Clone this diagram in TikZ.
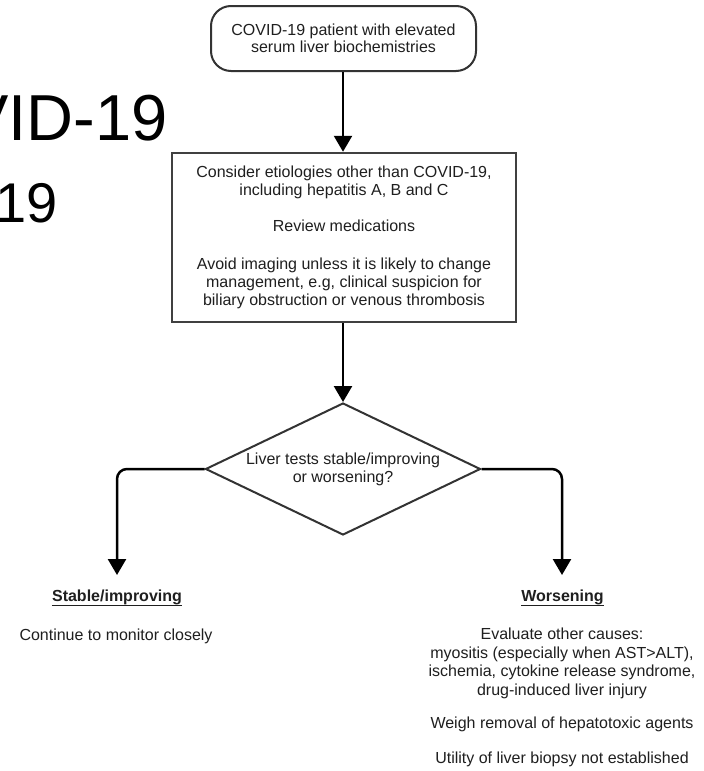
\documentclass[tikz,border=0pt]{standalone}
\usepackage{fontspec}
\setmainfont{Liberation Sans}
\usetikzlibrary{arrows.meta,shapes.geometric}
\begin{document}
\begin{tikzpicture}[x=1pt,y=-1pt,
  txt/.style={font=\fontsize{16}{18}\selectfont, text=black!88},
  startbox/.style={draw=black!80, line width=2pt, rounded corners=20pt,
    minimum width=265pt, minimum height=65pt, inner sep=0pt, align=center,
    font=\fontsize{16}{17}\selectfont, text=black!88},
  procbox/.style={draw=black!75, line width=2.5pt, minimum width=344pt,
    minimum height=169pt, inner sep=0pt, align=center, txt},
  decision/.style={diamond, draw=black!80, line width=2pt, aspect=2.08,
    minimum width=275pt, minimum height=132pt, inner sep=0pt, align=center, txt},
  arr/.style={draw=black, line width=2.5pt, -{Triangle[width=18pt,length=16pt]}},
  lbl/.style={inner sep=0pt, txt},
  ulline/.style={draw=black!88, line width=1.3pt},
  bigtxt/.style={inner sep=0pt, text=black}
]
\useasboundingbox (0,0) rectangle (704,771);
\clip (0,0) rectangle (704,771);
\fill[white] (0,0) rectangle (704,771);

% large partially visible title text
\node[bigtxt, anchor=base east, font=\fontsize{65}{65}\selectfont] (t1) at (168,140) {VID-19};
\node[bigtxt, anchor=base east, font=\fontsize{56}{56}\selectfont] (t2) at (57.5,222) {19};

% flowchart
\node[startbox] (s) at (343.5,38.5) {COVID-19 patient with elevated\\serum liver biochemistries};
\node[procbox] (b) at (344,237.5) {Consider etiologies other than COVID-19,\\including hepatitis A, B and C\\[18pt]Review medications\\[20pt]Avoid imaging unless it is likely to change\\management, e.g, clinical suspicion for\\biliary obstruction or venous thrombosis};
\node[decision] (d) at (343,469) {Liver tests stable/improving\\or worsening?};

\draw[arr] (s.south -| d.north) -- (b.north -| d.north);
\draw[arr] (b.south -| d.north) -- (d.north);

\coordinate (lt) at (117,575);
\coordinate (rt) at (562,575);
\draw[arr, rounded corners=10pt] (d.west) -| (lt);
\draw[arr, rounded corners=10pt] (d.east) -| (rt);

% left outcome
\node[lbl, anchor=base, font=\fontsize{16}{18}\selectfont\bfseries] (st) at (117,601) {Stable/improving};
\draw[ulline] ([yshift=-4.5pt]st.base west) -- ([yshift=-4.5pt]st.base east);
\node[lbl, anchor=base] (stt) at (116,640) {Continue to monitor closely};

% right outcome
\node[lbl, anchor=base, font=\fontsize{16}{18}\selectfont\bfseries] (wo) at (562.5,601) {Worsening};
\draw[ulline] ([yshift=-4.5pt]wo.base west) -- ([yshift=-4.5pt]wo.base east);
\node[lbl, align=center, font=\fontsize{16}{18.5}\selectfont] (wot) at (562,697.5) {Evaluate other causes:\\myositis (especially when AST>ALT),\\ischemia, cytokine release syndrome,\\drug-induced liver injury\\[15pt]Weigh removal of hepatotoxic agents\\[16.5pt]Utility of liver biopsy not established};
\end{tikzpicture}
\end{document}
